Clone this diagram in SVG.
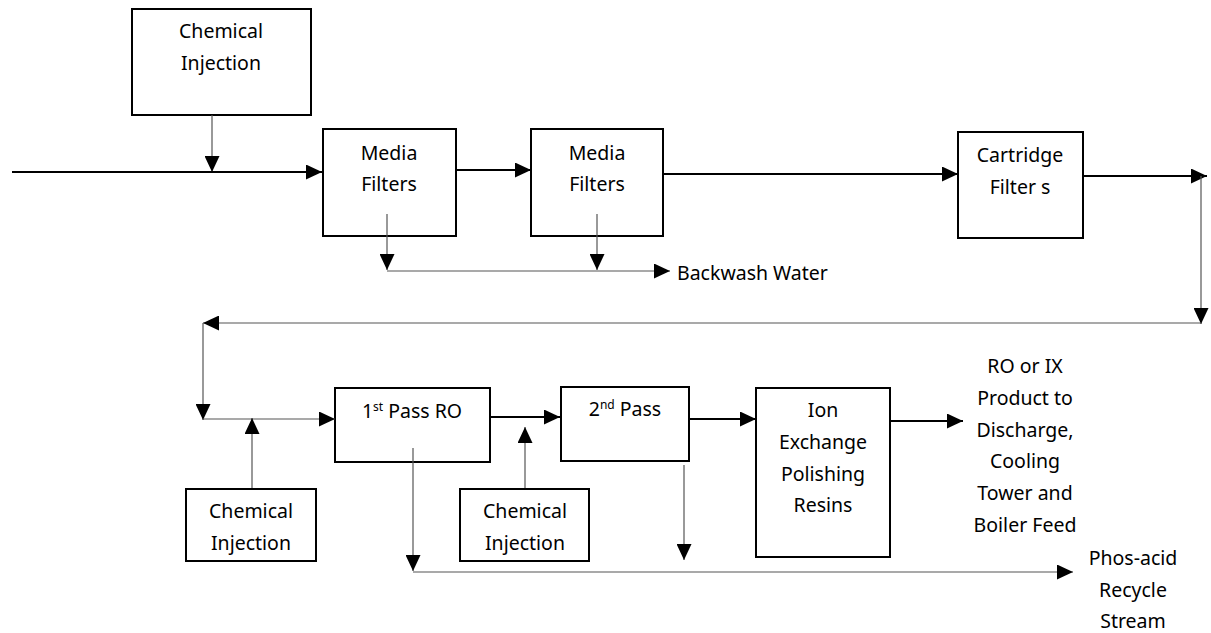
<svg xmlns="http://www.w3.org/2000/svg" width="1211" height="633" viewBox="0 0 1211 633">
<style>
.box{fill:#fff;stroke:#000;stroke-width:2}
.t{font-family:"Noto Sans","Liberation Sans",sans-serif;font-size:19.5px;fill:#000;text-anchor:middle}
.tl{font-family:"Noto Sans","Liberation Sans",sans-serif;font-size:19.5px;fill:#000}
.sup{font-size:12px}
.thick{stroke:#000;stroke-width:2;fill:none}
.thin{stroke:#555;stroke-width:1.2;fill:none}
</style>
<defs>
<marker id="ah" markerUnits="userSpaceOnUse" markerWidth="16" markerHeight="15" refX="16" refY="7.5" orient="auto">
<path d="M0,0 L16,7.5 L0,15 z" fill="#000"/>
</marker>
</defs>
<g id="chem1">
<rect class="box" x="132" y="9" width="179" height="106"/>
<text class="t" x="221" y="38">Chemical</text>
<text class="t" x="221" y="70">Injection</text>
</g>
<g id="media1">
<rect class="box" x="323" y="129" width="133" height="107"/>
<text class="t" x="389" y="160">Media</text>
<text class="t" x="389" y="191">Filters</text>
</g>
<g id="media2">
<rect class="box" x="531" y="129" width="132" height="107"/>
<text class="t" x="597" y="160">Media</text>
<text class="t" x="597" y="191">Filters</text>
</g>
<g id="cartridge">
<rect class="box" x="958" y="132" width="125" height="106"/>
<text class="t" x="1020" y="162">Cartridge</text>
<text class="t" x="1020" y="194">Filter s</text>
</g>
<g id="backwash">
<text class="tl" x="677" y="280">Backwash Water</text>
</g>
<g id="chem2">
<rect class="box" x="186" y="489" width="130" height="72"/>
<text class="t" x="251" y="518">Chemical</text>
<text class="t" x="251" y="550">Injection</text>
</g>
<g id="ro1">
<rect class="box" x="335" y="388" width="155" height="74"/>
<text class="t" x="412" y="418">1<tspan class="sup" dy="-7">st</tspan><tspan dy="7"> Pass RO</tspan></text>
</g>
<g id="chem3">
<rect class="box" x="460" y="489" width="129" height="72"/>
<text class="t" x="525" y="518">Chemical</text>
<text class="t" x="525" y="550">Injection</text>
</g>
<g id="ro2">
<rect class="box" x="561" y="387" width="128" height="74"/>
<text class="t" x="625" y="416">2<tspan class="sup" dy="-7">nd</tspan><tspan dy="7"> Pass</tspan></text>
</g>
<g id="ix">
<rect class="box" x="756" y="388" width="134" height="169"/>
<text class="t" x="823" y="417">Ion</text>
<text class="t" x="823" y="449">Exchange</text>
<text class="t" x="823" y="481">Polishing</text>
<text class="t" x="823" y="512">Resins</text>
</g>
<g id="product">
<text class="t" x="1025" y="373">RO or IX</text>
<text class="t" x="1025" y="405">Product to</text>
<text class="t" x="1025" y="437">Discharge,</text>
<text class="t" x="1025" y="468">Cooling</text>
<text class="t" x="1025" y="500">Tower and</text>
<text class="t" x="1025" y="532">Boiler Feed</text>
</g>
<g id="recycle">
<text class="t" x="1133" y="565">Phos-acid</text>
<text class="t" x="1133" y="597">Recycle</text>
<text class="t" x="1133" y="628">Stream</text>
</g>
<g id="connectors">
<line class="thin" x1="212" y1="115" x2="212" y2="172" marker-end="url(#ah)"/>
<line class="thick" x1="12" y1="172" x2="322" y2="172" marker-end="url(#ah)"/>
<line class="thick" x1="456" y1="170" x2="531" y2="170" marker-end="url(#ah)"/>
<line class="thick" x1="663" y1="174" x2="958" y2="174" marker-end="url(#ah)"/>
<line class="thick" x1="1083" y1="176" x2="1207" y2="176" marker-end="url(#ah)"/>
<line class="thin" x1="387" y1="214" x2="387" y2="270" marker-end="url(#ah)"/>
<line class="thin" x1="597" y1="214" x2="597" y2="270" marker-end="url(#ah)"/>
<line class="thin" x1="387" y1="271" x2="670" y2="271" marker-end="url(#ah)"/>
<line class="thin" x1="1201" y1="176" x2="1201" y2="324" marker-end="url(#ah)"/>
<line class="thin" x1="1201" y1="323" x2="203" y2="323" marker-end="url(#ah)"/>
<line class="thin" x1="203" y1="323" x2="203" y2="420" marker-end="url(#ah)"/>
<line class="thin" x1="203" y1="419" x2="335" y2="419" marker-end="url(#ah)"/>
<line class="thin" x1="252" y1="488" x2="252" y2="418" marker-end="url(#ah)"/>
<line class="thick" x1="490" y1="417" x2="560" y2="417" marker-end="url(#ah)"/>
<line class="thin" x1="525" y1="488" x2="525" y2="427" marker-end="url(#ah)"/>
<line class="thick" x1="689" y1="419" x2="756" y2="419" marker-end="url(#ah)"/>
<line class="thick" x1="890" y1="421" x2="963" y2="421" marker-end="url(#ah)"/>
<line class="thin" x1="413" y1="448" x2="413" y2="571" marker-end="url(#ah)"/>
<line class="thin" x1="684" y1="465" x2="684" y2="560" marker-end="url(#ah)"/>
<line class="thin" x1="413" y1="572" x2="1073" y2="572" marker-end="url(#ah)"/>
</g>
</svg>
